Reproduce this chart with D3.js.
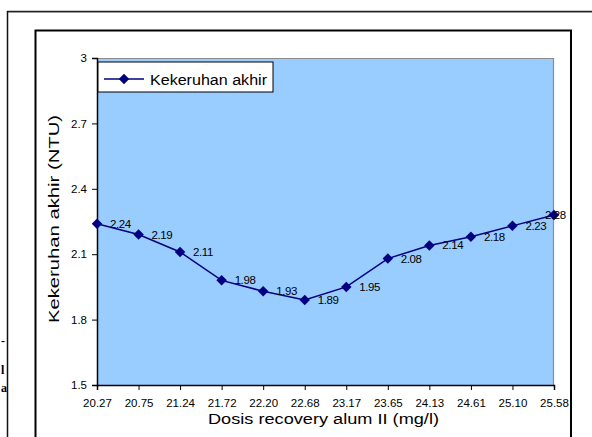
<!DOCTYPE html>
<html>
<head>
<meta charset="utf-8">
<script src="https://cdn.jsdelivr.net/npm/d3@7"></script>
<style>
  body { margin: 0; background: #fff; }
  svg { display: block; font-family: "Liberation Sans", Arial, sans-serif; }
</style>
</head>
<body>
<script>
// Chart data
const doses = ["20.27", "20.75", "21.24", "21.72", "22.20", "22.68", "23.17", "23.65", "24.13", "24.61", "25.10", "25.58"];
const turbidity = [2.24, 2.19, 2.11, 1.98, 1.93, 1.89, 1.95, 2.08, 2.14, 2.18, 2.23, 2.28];
const yTicks = [1.5, 1.8, 2.1, 2.4, 2.7, 3];
const seriesName = "Kekeruhan akhir";

const W = 592, H = 437;
const margin = { top: 58, right: 38, bottom: 52, left: 97 };
const width = W - margin.left - margin.right;
const height = H - margin.top - margin.bottom;

const svg = d3.select("body").append("svg")
  .attr("width", W)
  .attr("height", H);

// Outer page frames
svg.append("line").attr("x1", 7).attr("y1", 11.5).attr("x2", W).attr("y2", 11.5)
  .attr("stroke", "#222").attr("stroke-width", 1.5);
svg.append("line").attr("x1", 7).attr("y1", 12.5).attr("x2", W).attr("y2", 12.5)
  .attr("stroke", "#999").attr("stroke-width", 1);
svg.append("line").attr("x1", 7.5).attr("y1", 11).attr("x2", 7.5).attr("y2", H)
  .attr("stroke", "#111").attr("stroke-width", 1.5);
svg.append("path")
  .attr("d", `M35.5,${H} V30.5 H571 V${H}`)
  .attr("fill", "none").attr("stroke", "#000").attr("stroke-width", 2);

// clipped text fragments at the left edge
[[345, "-"], [374, "l"], [392, "a"]].forEach(([y, t]) => {
  svg.append("text").attr("x", 1).attr("y", y).attr("font-size", 12)
    .attr("font-family", "Liberation Serif, serif").attr("font-weight", "bold").text(t);
});

const g = svg.append("g").attr("transform", `translate(${margin.left},${margin.top})`);

const x = d3.scalePoint().domain(doses).range([0, width]);
const y = d3.scaleLinear().domain([1.5, 3]).range([height, 0]);

// Plot area
g.append("rect").attr("width", width).attr("height", height).attr("fill", "#99CCFF");
g.append("path").attr("d", `M0,0.5 H${width - 0.5} V${height}`)
  .attr("fill", "none").attr("stroke", "#8c8c8c").attr("stroke-width", 1.2);

// Axes
const yAxis = g.append("g")
  .call(d3.axisLeft(y).tickValues(yTicks).tickSize(5).tickPadding(5).tickFormat(d => d === 3 ? "3" : d3.format(".1f")(d)));
const xAxis = g.append("g").attr("transform", `translate(0,${height})`)
  .call(d3.axisBottom(x).tickSize(5).tickPadding(9));
[yAxis, xAxis].forEach(a => {
  a.select(".domain").attr("stroke", "#000").attr("stroke-width", 1.5);
  a.selectAll(".tick line").attr("stroke", "#000");
  a.selectAll("text").attr("font-size", 11.5).attr("fill", "#000")
    .attr("font-family", "Liberation Sans, Arial, sans-serif");
});

// Line
const line = d3.line().x((d, i) => x(doses[i])).y(d => y(d));
g.append("path").datum(turbidity)
  .attr("d", line).attr("fill", "none").attr("stroke", "#000080").attr("stroke-width", 1.5);

const diamond = d3.symbol().type(d3.symbolDiamond2).size(70);
g.selectAll(".pt").data(turbidity).enter().append("path")
  .attr("class", "pt")
  .attr("transform", (d, i) => `translate(${x(doses[i])},${y(d)})`)
  .attr("d", diamond).attr("fill", "#000080");

// Data labels (last one is pulled back inside the plot)
const last = turbidity.length - 1;
g.selectAll(".lbl").data(turbidity).enter().append("text")
  .attr("class", "lbl")
  .attr("x", (d, i) => x(doses[i]) + (i === last ? -9 : 13))
  .attr("y", d => y(d) + 4)
  .attr("font-size", 11.5).attr("letter-spacing", -0.4).attr("fill", "#000")
  .text(d => d3.format(".2f")(d));

// Legend
const lg = g.append("g").attr("transform", "translate(1,4)");
lg.append("rect").attr("width", 175).attr("height", 30)
  .attr("fill", "#fff").attr("stroke", "#000").attr("stroke-width", 1);
lg.append("line").attr("x1", 6).attr("x2", 46).attr("y1", 17).attr("y2", 17)
  .attr("stroke", "#000080").attr("stroke-width", 1.5);
lg.append("path").attr("transform", "translate(26,17)").attr("d", diamond).attr("fill", "#000080");
lg.append("text").attr("x", 52).attr("y", 22.5).attr("font-size", 15.5)
  .attr("textLength", 117).attr("lengthAdjust", "spacingAndGlyphs").text(seriesName);

// Axis titles
svg.append("text")
  .attr("transform", "translate(59,219) rotate(-90)")
  .attr("text-anchor", "middle").attr("font-size", 15.5)
  .attr("textLength", 208).attr("lengthAdjust", "spacingAndGlyphs")
  .text("Kekeruhan akhir (NTU)");
svg.append("text")
  .attr("x", 323.5).attr("y", 424)
  .attr("text-anchor", "middle").attr("font-size", 15.5)
  .attr("textLength", 231).attr("lengthAdjust", "spacingAndGlyphs")
  .text("Dosis recovery alum II (mg/l)");
</script>
</body>
</html>
